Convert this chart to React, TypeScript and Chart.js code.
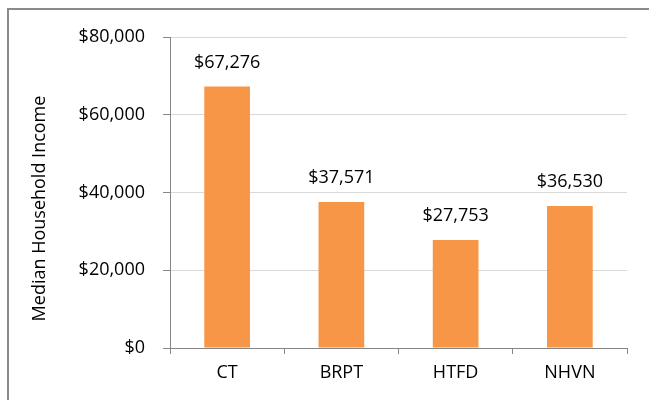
import React, { useEffect, useRef } from "react";
import { Chart, registerables } from "chart.js";

Chart.register(...registerables);

const categories = ["CT", "BRPT", "HTFD", "NHVN"];
const incomes = [67276, 37571, 27753, 36530];
const yMin = 0;
const yMax = 80000;
const yStep = 20000;
const yTitle = "Median Household Income";

const FONT = "'Open Sans', Lato, sans-serif";
const FONT_SIZE = 18;
const BAR_COLOR = "#F79646";
const AXIS_COLOR = "#868686";
const GRID_COLOR = "#d9d9d9";

const fmt = (v: number) => "$" + Number(v).toLocaleString("en-US");

const dataLabels = {
  id: "dataLabels",
  afterDatasetsDraw(chart: any) {
    const ctx = chart.ctx;
    const meta = chart.getDatasetMeta(0);
    ctx.save();
    ctx.font = `${FONT_SIZE}px ${FONT}`;
    ctx.fillStyle = "#000";
    ctx.textAlign = "center";
    ctx.textBaseline = "middle";
    meta.data.forEach((bar: any, i: number) => {
      ctx.fillText(fmt(incomes[i]), bar.x, bar.y - 24);
    });
    ctx.restore();
  },
};

const yTitlePlugin = {
  id: "yTitlePlugin",
  afterDraw(chart: any) {
    const ctx = chart.ctx;
    const a = chart.chartArea;
    ctx.save();
    ctx.font = `${FONT_SIZE}px ${FONT}`;
    ctx.fillStyle = "#000";
    ctx.textAlign = "center";
    ctx.textBaseline = "middle";
    ctx.translate(40, (a.top + a.bottom) / 2 + 16);
    ctx.rotate(-Math.PI / 2);
    ctx.fillText(yTitle, 0, 0);
    ctx.restore();
  },
};

export default function App() {
  const ref = useRef<HTMLCanvasElement | null>(null);

  useEffect(() => {
    if (!ref.current) return;
    const chart = new Chart(ref.current, {
      type: "bar",
      data: {
        labels: categories,
        datasets: [
          {
            data: incomes,
            backgroundColor: BAR_COLOR,
            barPercentage: 0.4,
            categoryPercentage: 1.0,
          },
        ],
      },
      options: {
        animation: false,
        responsive: false,
        maintainAspectRatio: false,
        layout: { padding: { left: 0, right: 22, top: 37, bottom: 0 } },
        plugins: {
          legend: { display: false },
          tooltip: { enabled: false },
          title: { display: false },
        },
        scales: {
          x: {
            offset: true,
            grid: {
              display: true,
              offset: true,
              drawOnChartArea: false,
              drawTicks: true,
              tickLength: 6,
              tickColor: AXIS_COLOR,
            },
            border: { color: AXIS_COLOR, width: 1 },
            ticks: {
              color: "#000",
              font: { family: FONT, size: FONT_SIZE },
              padding: 8,
            },
            afterFit: (s: any) => {
              s.height = 52;
            },
          },
          y: {
            min: yMin,
            max: yMax,
            ticks: {
              stepSize: yStep,
              callback: (v: any) => fmt(v),
              color: "#000",
              font: { family: FONT, size: FONT_SIZE },
              padding: 18,
            },
            grid: {
              color: GRID_COLOR,
              tickColor: AXIS_COLOR,
              tickLength: 7,
              lineWidth: 1,
            },
            border: { color: AXIS_COLOR, width: 1 },
            afterFit: (s: any) => {
              s.width = 170;
            },
          },
        },
      },
      plugins: [dataLabels, yTitlePlugin],
    } as any);
    return () => chart.destroy();
  }, []);

  return (
    <div style={{ position: "absolute", left: 0, top: 0, width: 649, height: 400, overflow: "hidden", background: "#fff" }}>
      <div
        style={{
          position: "absolute",
          left: 7,
          top: 8,
          width: 700,
          height: 450,
          borderLeft: "2px solid #8a8a8a",
          borderTop: "2px solid #8a8a8a",
          boxSizing: "border-box",
        }}
      />
      <canvas ref={ref} width={649} height={400} style={{ position: "absolute", left: 0, top: 0, width: 649, height: 400 }} />
    </div>
  );
}
